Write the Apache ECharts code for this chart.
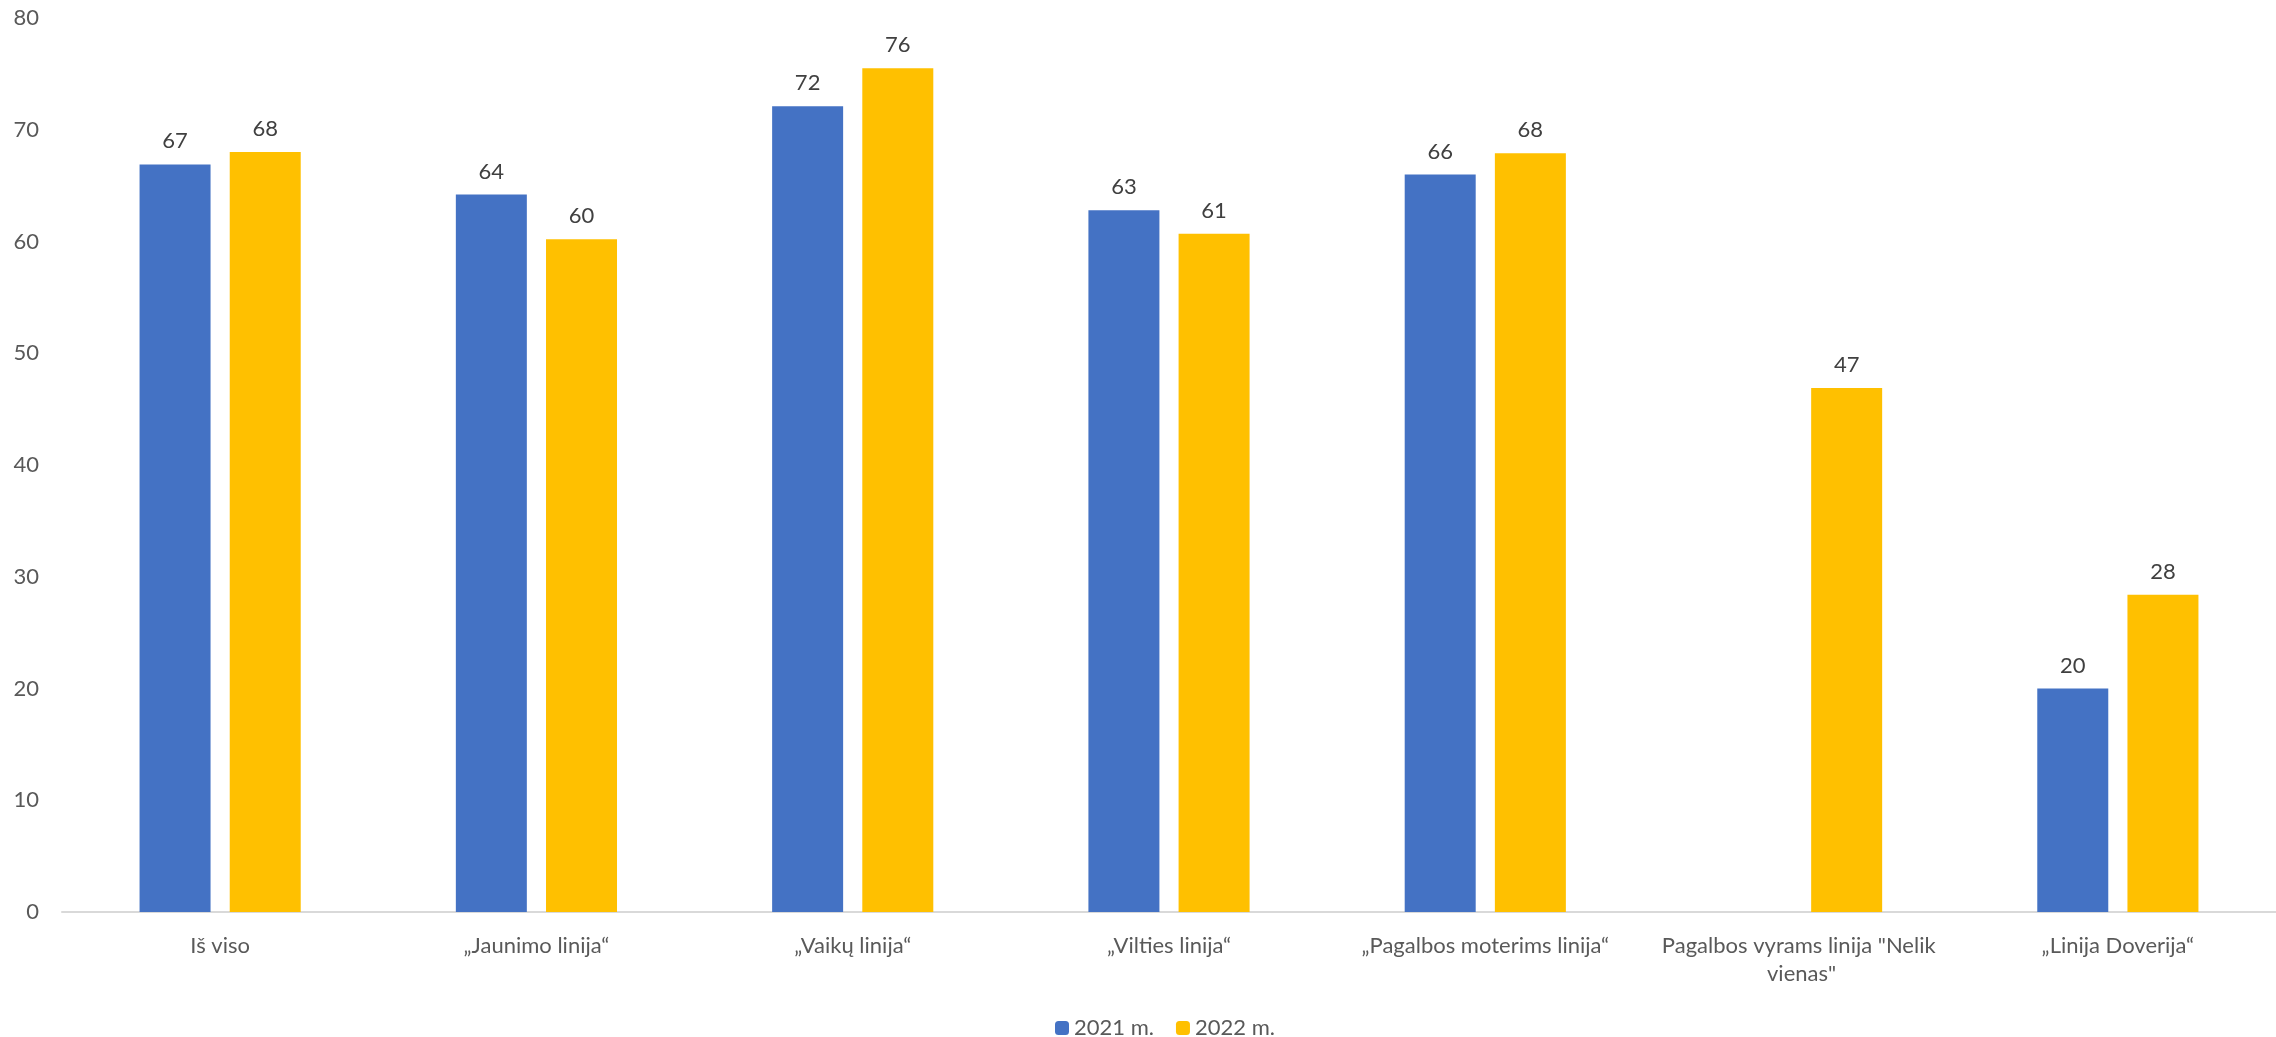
<!DOCTYPE html>
<html>
<head>
<meta charset="utf-8">
<script src="https://cdn.jsdelivr.net/npm/echarts@6/dist/echarts.min.js"></script>
<style>
html,body{margin:0;padding:0;background:#fff;}
#chart{width:2276px;height:1037px;}
</style>
</head>
<body>
<div id="chart"></div>
<script>
const categories = ['Iš viso', '„Jaunimo linija“', '„Vaikų linija“', '„Vilties linija“', '„Pagalbos moterims linija“', 'Pagalbos vyrams linija "Nelik vienas"', '„Linija Doverija“'];
const seriesNames = ['2021 m.', '2022 m.'];
const values2021 = [66.9, 64.2, 72.1, 62.8, 66.0, null, 20.0];
const values2022 = [68.0, 60.2, 75.5, 60.7, 67.9, 46.9, 28.4];
const yTicks = [0, 10, 20, 30, 40, 50, 60, 70, 80];

const FONT = 'Lato';
const chart = echarts.init(document.getElementById('chart'), null, {renderer: 'canvas'});
const labelOpt = {
  show: true, position: 'top', distance: 12,
  color: '#404040', fontSize: 22, fontFamily: FONT,
  formatter: p => Math.round(p.value)
};
chart.setOption({
  animation: false,
  textStyle: {fontFamily: FONT},
  grid: {left: 62, top: 18, width: 2219, bottom: 125, containLabel: false},
  legend: {
    left: 1050, top: 1012,
    itemWidth: 14, itemHeight: 14, itemGap: 22,
    textStyle: {color: '#595959', fontSize: 22, fontFamily: FONT},
    data: seriesNames
  },
  xAxis: {
    type: 'category', data: categories,
    axisLine: {lineStyle: {color: '#d9d9d9', width: 2}},
    axisTick: {show: false},
    axisLabel: {color: '#595959', fontSize: 22, fontFamily: FONT, margin: 20,
      width: 300, overflow: 'break', lineHeight: 28, interval: 0}
  },
  yAxis: {
    type: 'value', min: yTicks[0], max: yTicks[yTicks.length - 1], interval: 10,
    axisLine: {show: false}, axisTick: {show: false},
    splitLine: {show: false},
    axisLabel: {color: '#595959', fontSize: 22, fontFamily: FONT, margin: 23}
  },
  series: [
    {name: seriesNames[0], type: 'bar', data: values2021, barWidth: 71, barGap: '27%',
     itemStyle: {color: '#4472C4'}, label: labelOpt},
    {name: seriesNames[1], type: 'bar', data: values2022, barWidth: 71, barGap: '27%',
     itemStyle: {color: '#FFC000'}, label: labelOpt}
  ]
});
</script>
</body>
</html>
